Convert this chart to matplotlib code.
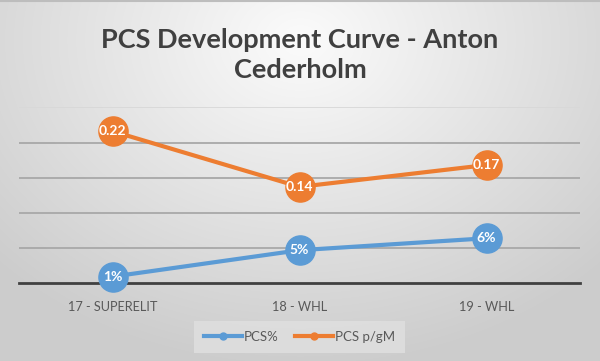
import matplotlib
matplotlib.use("Agg")
import matplotlib.pyplot as plt
import numpy as np
from matplotlib.lines import Line2D

categories = ["17 - SUPERELIT", "18 - WHL", "19 - WHL"]
pcs_pct = [0.0095, 0.047, 0.064]
pcs_pgm = [0.216, 0.137, 0.168]
series_names = ["PCS%", "PCS p/gM"]
title = "PCS Development Curve - Anton\nCederholm"

W, H = 600, 361
fig = plt.figure(figsize=(W / 100, H / 100), dpi=100)

# radial gradient background
bg = fig.add_axes([0, 0, 1, 1], zorder=-10)
yy, xx = np.mgrid[0:H, 0:W]
d = np.sqrt(((xx - 300) / 420.0) ** 2 + ((yy - 40) / 330.0) ** 2)
d = np.clip(d, 0, 1)
c = 0.985 - (0.985 - 0.80) * d
img = np.dstack([c, c, c])
bg.imshow(img, extent=[0, W, H, 0], aspect="auto")
bg.set_xlim(0, W); bg.set_ylim(H, 0)
bg.axis("off")
bg.plot([0, W], [1, 1], color="#bdbdbd", lw=1.5)

font = "Lato"

x0, x1 = 19, 580
yb, yt = 283.3, 107.3
ax = fig.add_axes([x0 / W, 1 - yb / H, (x1 - x0) / W, (yb - yt) / H])
ax.set_facecolor("none")
ax.set_xlim(-0.5, len(categories) - 0.5)
ax.set_ylim(0, 0.25)
for s in ["top", "right", "left"]:
    ax.spines[s].set_visible(False)
ax.spines["bottom"].set_color("#404040")
ax.spines["bottom"].set_linewidth(2.0)
ax.set_yticks([])
for g in [0.05, 0.10, 0.15, 0.20, 0.25]:
    col = "#a8a8a8" if g < 0.25 else "#d8d8d8"
    ax.axhline(g, color=col, lw=1.3, zorder=0)

x = np.arange(len(categories))
blue, orange = "#5B9BD5", "#ED7D31"
ax.plot(x, pcs_pct, color=blue, lw=3, marker="o", ms=21, zorder=3,
        solid_capstyle="round", clip_on=False)
ax.plot(x, pcs_pgm, color=orange, lw=3, marker="o", ms=21, zorder=3,
        solid_capstyle="round", clip_on=False)
for xi, v in zip(x, pcs_pct):
    ax.text(xi, v, f"{v:.0%}", color="white", ha="center", va="center",
            fontsize=10, fontweight="bold", family=font, zorder=5)
for xi, v in zip(x, pcs_pgm):
    ax.text(xi, v, f"{v:.2f}", color="white", ha="center", va="center",
            fontsize=10, fontweight="bold", family=font, zorder=5)

ax.set_xticks(x)
ax.set_xticklabels(categories, fontsize=9.2, color="#595959", family=font)
ax.tick_params(axis="x", length=0, pad=13)

fig.text(0.5, 1 - 55 / H, title, ha="center", va="center", fontsize=19.5,
         fontweight="bold", color="#404040", family=font, linespacing=1.3)

handles = [Line2D([], [], color=blue, lw=3, marker="o", ms=5),
           Line2D([], [], color=orange, lw=3, marker="o", ms=5)]
leg = fig.legend(handles, series_names, loc="center", bbox_to_anchor=(299.5 / W, 1 - 337 / H),
                 ncol=2, frameon=True, handlelength=2.9,
                 columnspacing=1.2, handletextpad=0.15, borderpad=0.75,
                 borderaxespad=0, prop={"family": font, "size": 9.5})
leg.get_frame().set_facecolor("#e0e0e0")
leg.get_frame().set_edgecolor("none")
leg.get_frame().set_boxstyle("square", pad=0)
for t in leg.get_texts():
    t.set_color("#595959")

fig.savefig("out.png", dpi=100)
